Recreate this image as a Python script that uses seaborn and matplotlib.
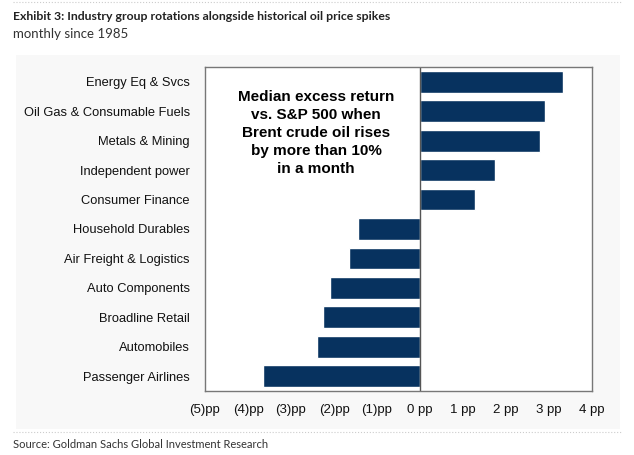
import matplotlib

matplotlib.use("Agg")
import matplotlib.pyplot as plt
import pandas as pd
import seaborn as sns

industries = [
    "Energy Eq & Svcs",
    "Oil Gas & Consumable Fuels",
    "Metals & Mining",
    "Independent power",
    "Consumer Finance",
    "Household Durables",
    "Air Freight & Logistics",
    "Auto Components",
    "Broadline Retail",
    "Automobiles",
    "Passenger Airlines",
]
excess_return = [3.33, 2.91, 2.78, 1.74, 1.28, -1.44, -1.65, -2.09, -2.26, -2.40, -3.66]
tick_values = [-5, -4, -3, -2, -1, 0, 1, 2, 3, 4]
tick_labels = ["(5)pp", "(4)pp", "(3)pp", "(2)pp", "(1)pp", "0 pp", "1 pp", "2 pp", "3 pp", "4 pp"]

df = pd.DataFrame({"industry": industries, "value": excess_return})

sns.set_style("white")
plt.rcParams["font.family"] = ["Liberation Sans", "DejaVu Sans"]

W, H = 634, 455
fig = plt.figure(figsize=(6.34, 4.55), dpi=100, facecolor="white")

# light grey panel behind the chart image
fig.add_artist(plt.Rectangle((16 / W, 1 - 429 / H), 604 / W, 374 / H,
                             facecolor="#f8f8f8", edgecolor="none", zorder=0))

ax = fig.add_axes([205 / W, 1 - 391 / H, 387 / W, 324 / H])
ax.set_facecolor("white")

sns.barplot(data=df, x="value", y="industry", color="#07325f", width=0.74,
            saturation=1, orient="h", ax=ax)

ax.set_xlim(-5, 4)
ax.set_ylim(10.5, -0.5)
ax.axvline(0, color="#555555", lw=1)
ax.set_xticks(tick_values)
ax.set_xticklabels(tick_labels, fontsize=9.5, color="#111111")
ax.tick_params(axis="y", labelsize=9.3, labelcolor="#111111", length=0, pad=11)
ax.tick_params(axis="x", length=0, pad=9)
ax.set_xlabel("")
ax.set_ylabel("")
for s in ax.spines.values():
    s.set_color("#777777")
    s.set_linewidth(1)

ax.text(-2.42, 1.74, "Median excess return\nvs. S&P 500 when\nBrent crude oil rises\nby more than 10%\nin a month",
        ha="center", va="center", fontsize=11, fontweight="bold", linespacing=1.38, color="black")

fig.text(13 / W, 1 - 16 / H, "Exhibit 3: Industry group rotations alongside historical oil price spikes",
         fontsize=8.8, fontweight="bold", family=["Lato", "DejaVu Sans"], color="#222222", va="center")
fig.text(13 / W, 1 - 34 / H, "monthly since 1985", fontsize=9.5,
         family=["Lato", "DejaVu Sans"], color="#333333", va="center")
fig.text(13 / W, 1 - 444 / H, "Source: Goldman Sachs Global Investment Research", fontsize=8.0,
         family=["Lato", "DejaVu Sans"], color="#333333", va="center")

for yy in [2, 432]:
    fig.add_artist(plt.Line2D([13 / W, 1 - 13 / W], [1 - yy / H] * 2, color="#cccccc",
                              lw=0.8, ls=":"))

fig.savefig("out.png", dpi=100, facecolor=fig.get_facecolor())
